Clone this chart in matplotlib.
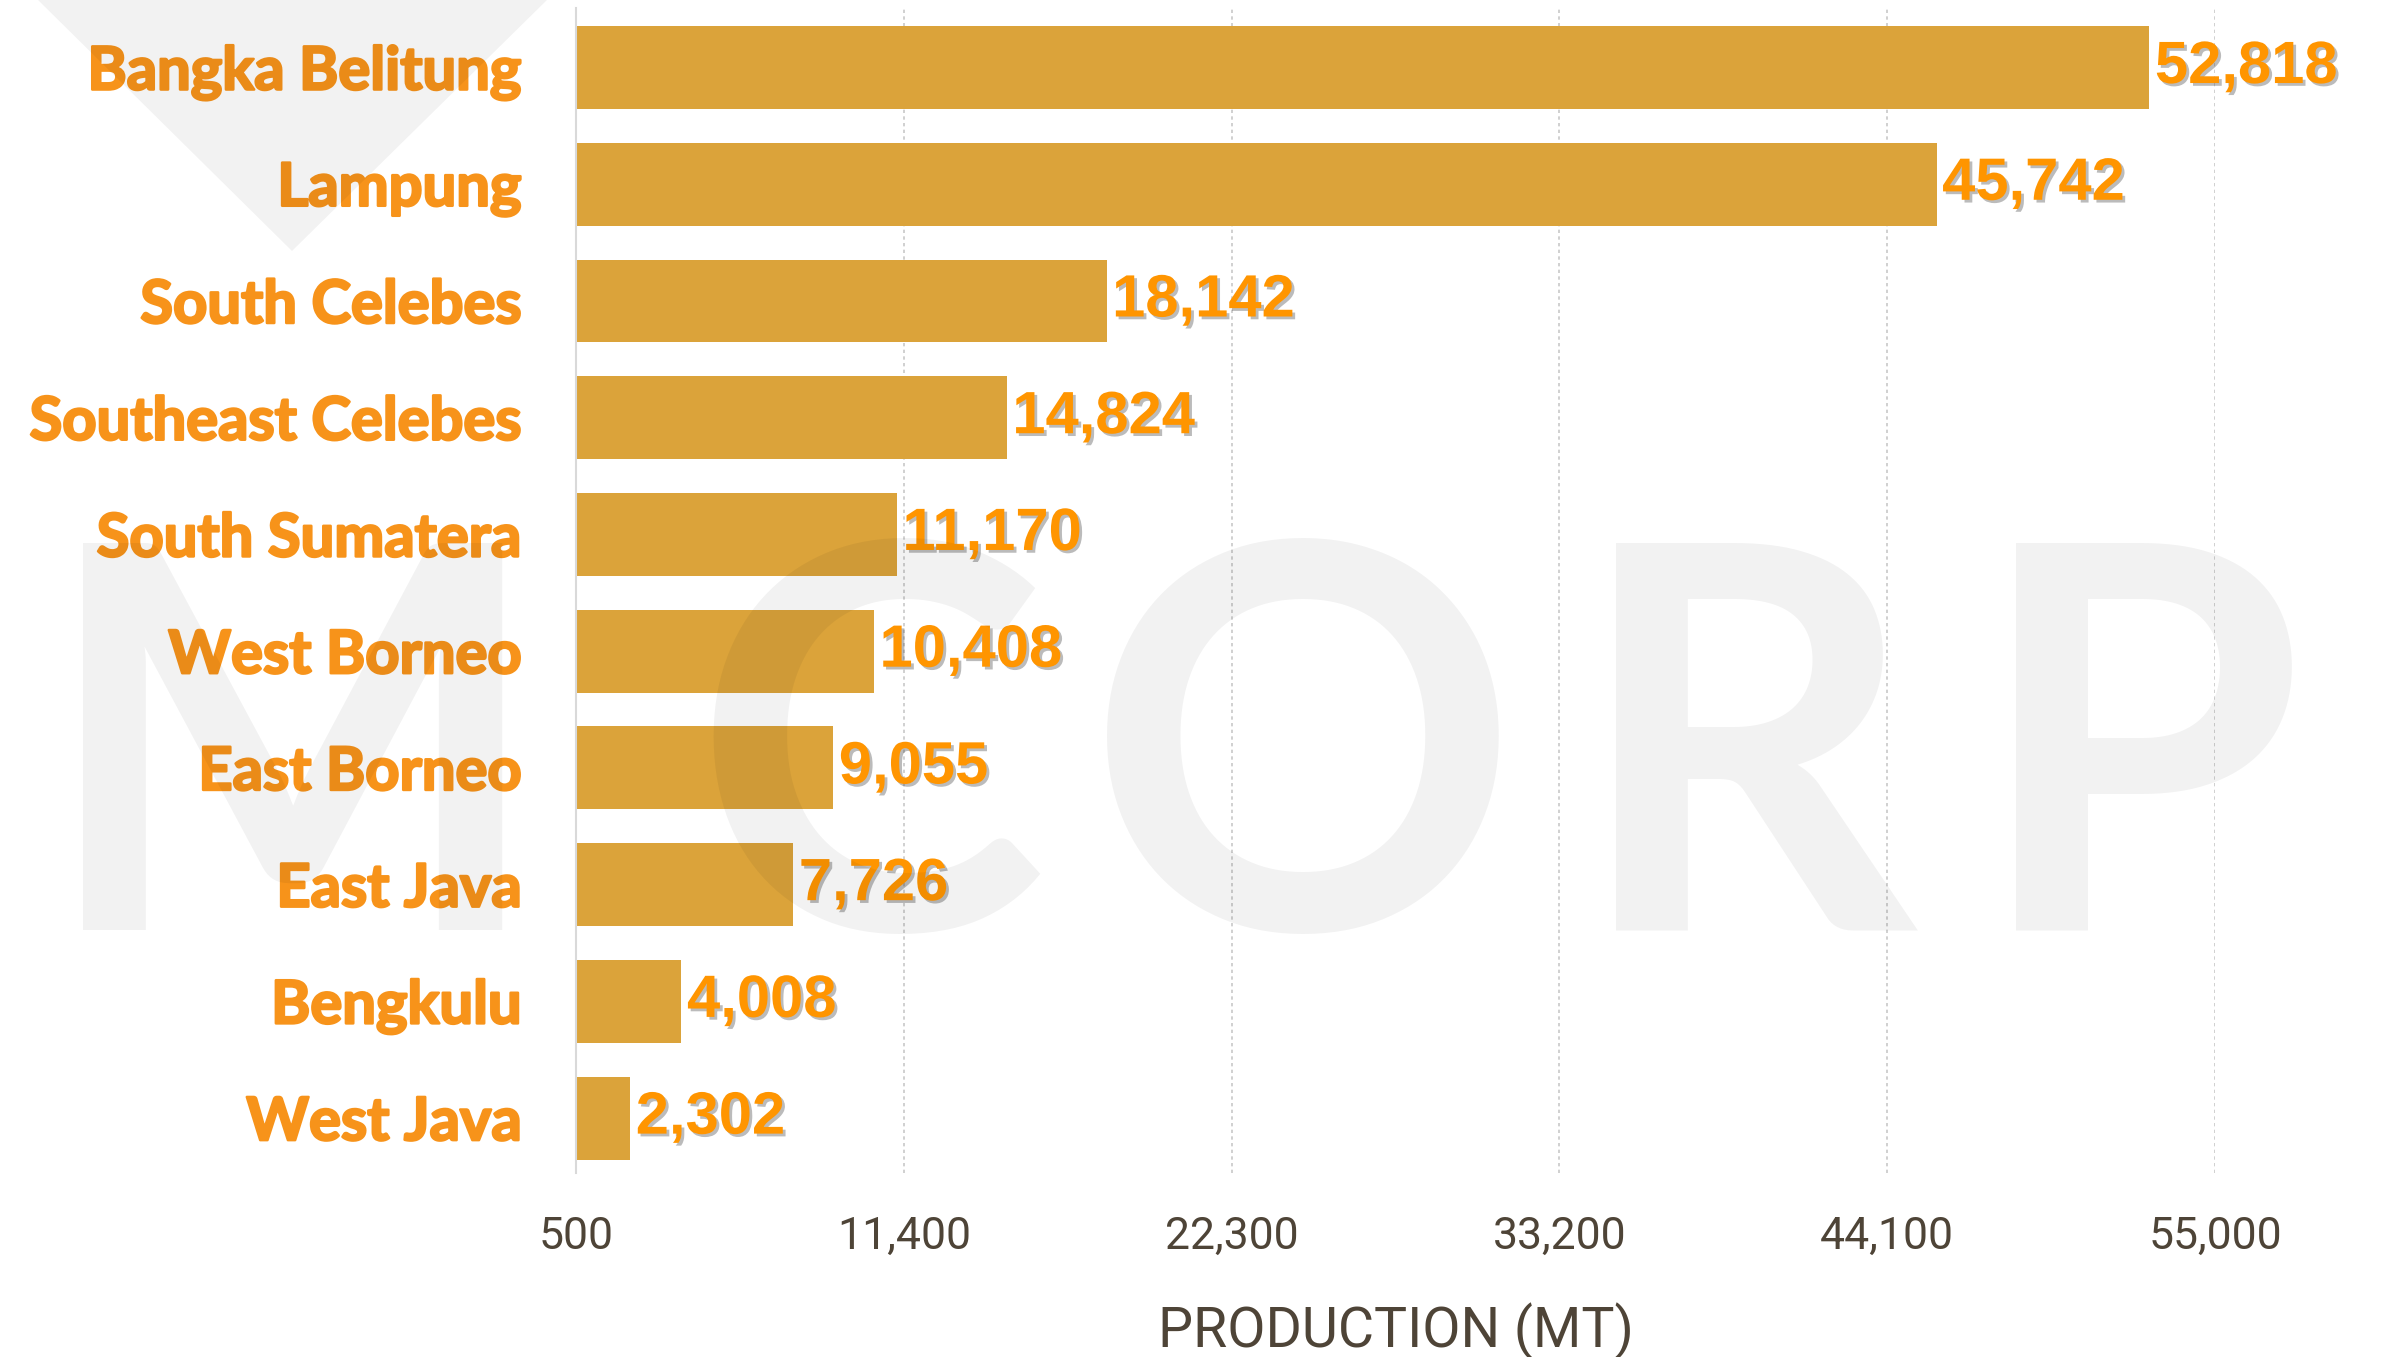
import matplotlib
matplotlib.use("Agg")
import matplotlib.pyplot as plt
import matplotlib.patheffects as pe
from matplotlib.patches import Polygon

# data
regions = ['Bangka Belitung', 'Lampung', 'South Celebes', 'Southeast Celebes',
           'South Sumatera', 'West Borneo', 'East Borneo', 'East Java',
           'Bengkulu', 'West Java']
production = [52818, 45742, 18142, 14824, 11170, 10408, 9055, 7726, 4008, 2302]
xticks = [500, 11400, 22300, 33200, 44100, 55000]

bar_color = '#DBA33A'
label_color = '#F7931A'
value_color = '#FF9500'
tick_color = '#4E4437'

fig = plt.figure(figsize=(23.83, 13.57), dpi=100)
ax = fig.add_axes([0.2417, 0.1356, 0.9295 - 0.2417, 0.9941 - 0.1356])

ypos = list(range(len(regions)))
ax.barh(ypos, production, height=0.71, color=bar_color, zorder=2)

ax.set_xlim(500, 55000)
ax.set_ylim(9.47, -0.51)

ax.set_yticks(ypos)
ax.set_yticklabels(regions, fontsize=43, fontweight='bold', color=label_color,
                   family='Lato')
for t in ax.get_yticklabels():
    t.set_path_effects([pe.Stroke(linewidth=1.8, foreground=label_color), pe.Normal()])
ax.tick_params(axis='y', length=0, pad=39)

ax.set_xticks(xticks)
ax.set_xticklabels(['{:,}'.format(t) for t in xticks], fontsize=32,
                   color=tick_color, family='Roboto', fontweight='normal')
ax.tick_params(axis='x', length=0, pad=31)
ax.set_xlabel('PRODUCTION (MT)', fontsize=40, color=tick_color,
              family='Roboto', fontweight='normal', labelpad=32)

ax.grid(axis='x', linestyle=(0, (2, 2)), color='#C8C8C8', linewidth=1.2, zorder=0)
for s in ['top', 'right', 'bottom']:
    ax.spines[s].set_visible(False)
ax.spines['left'].set_color('#D9D9D9')
ax.spines['left'].set_linewidth(1.5)

shadow = [pe.SimplePatchShadow(offset=(2, -2), shadow_rgbFace='#555555', alpha=0.4),
          pe.Normal()]
for i in range(len(production)):
    ax.annotate('{:,}'.format(production[i]), (production[i], i),
                xytext=(4, 0), textcoords='offset points',
                va='center', ha='left', fontsize=43, fontweight='bold',
                color=value_color, family='Liberation Sans',
                path_effects=shadow, annotation_clip=False, zorder=5)

# watermark
fig.text(40 / 2383, 1 - 930 / 1357, 'M', fontsize=385, fontweight='bold',
         family='Lato', color='black', alpha=0.05, zorder=10)
for letter, x0 in zip('CORP', [692, 1087, 1573, 1973]):
    fig.text(x0 / 2383, 1 - 930 / 1357, letter, fontsize=385, fontweight='bold',
             family='Lato', color='black', alpha=0.05, zorder=10)
tri = Polygon([(38 / 2383, 1.0), (547 / 2383, 1.0), (292 / 2383, 1 - 251 / 1357)],
              closed=True, transform=fig.transFigure, facecolor='black',
              alpha=0.05, edgecolor='none', zorder=10)
fig.patches.append(tri)

fig.savefig('out.png', dpi=100)
